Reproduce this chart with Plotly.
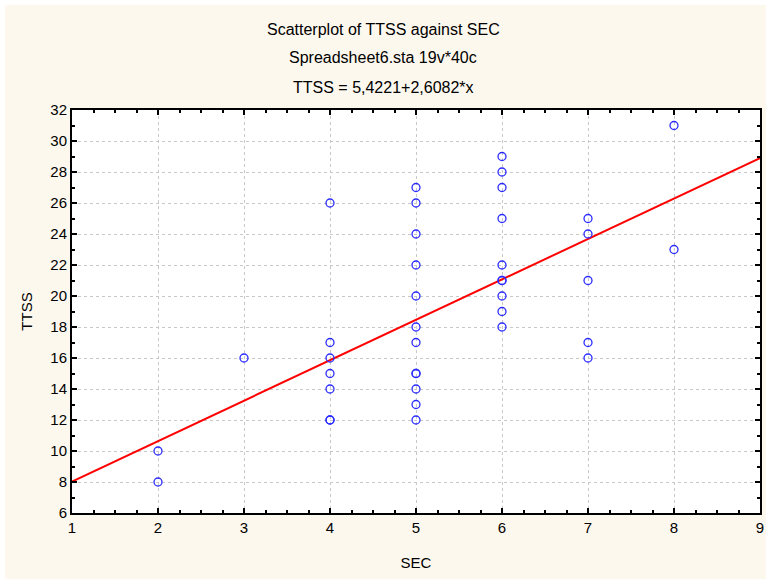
import plotly.graph_objects as go

# SEC / TTSS pairs (duplicates overlap)
sec = [2, 2,
       3,
       4, 4, 4, 4, 4, 4, 4,
       5, 5, 5, 5, 5, 5, 5, 5, 5, 5, 5, 5,
       6, 6, 6, 6, 6, 6, 6, 6, 6, 6,
       7, 7, 7, 7, 7,
       8, 8]
ttss = [8, 10,
        16,
        26, 17, 16, 15, 14, 12, 12,
        27, 26, 24, 22, 20, 18, 17, 15, 15, 14, 13, 12,
        29, 28, 27, 25, 22, 21, 21, 20, 19, 18,
        25, 24, 21, 17, 16,
        31, 23]

intercept = 5.4221
slope = 2.6082
fit_x = [1, 9]
fit_y = [intercept + slope * x for x in fit_x]

title_lines = [
    "Scatterplot of TTSS against SEC",
    "Spreadsheet6.sta 19v*40c",
    "TTSS = 5,4221+2,6082*x",
]

CREAM = "#fdf8ee"
FONT = "Liberation Sans, Arial, sans-serif"

W, H = 766, 579
L, R, T, B = 72, 6, 110, 66
PW, PH = W - L - R, H - T - B


def px_x(px):
    return (px - L) / PW


def px_y(py):
    return (H - B - py) / PH


fig = go.Figure()
fig.add_trace(
    go.Scatter(
        x=fit_x, y=fit_y, mode="lines",
        line=dict(color="#ff0000", width=2),
        hoverinfo="skip", showlegend=False,
    )
)
fig.add_trace(
    go.Scatter(
        x=sec, y=ttss, mode="markers",
        marker=dict(symbol="circle-open", size=8, color="#2b2bff",
                    line=dict(width=1.3)),
        hoverinfo="skip", showlegend=False,
    )
)

axis_common = dict(
    showline=True, linecolor="black", linewidth=2, mirror="ticks",
    ticks="inside", ticklen=5, tickwidth=2, tickcolor="black",
    showgrid=True, gridcolor="#c8c8c8", griddash="dot", gridwidth=1,
    zeroline=False, tickfont=dict(size=15, color="black"),
    ticklabeloverflow="allow", automargin=False,
)

fig.update_xaxes(
    range=[1, 9], dtick=1, tick0=1,
    minor=dict(ticks="inside", dtick=0.25, ticklen=3, tickwidth=2,
               tickcolor="black", showgrid=False),
    title=dict(text="SEC", font=dict(size=15, color="black"), standoff=22),
    **axis_common,
)
fig.update_yaxes(
    range=[6, 32], dtick=2, tick0=6,
    minor=dict(ticks="inside", dtick=1, ticklen=3, tickwidth=2,
               tickcolor="black", showgrid=False),
    title=dict(text="TTSS", font=dict(size=15, color="black"), standoff=14),
    **axis_common,
)

# three-line title, centred on the page
for text, ypx in zip(title_lines, [30, 58, 87]):
    fig.add_annotation(
        text=text, xref="paper", yref="paper",
        x=px_x(383), y=px_y(ypx),
        xanchor="center", yanchor="middle", showarrow=False,
        font=dict(size=16, color="black"),
    )

# thin white strip along the top and left page edges
for x0, x1, y0, y1 in [(0, W, 0, 5), (0, 5, 0, H)]:
    fig.add_shape(
        type="rect", xref="paper", yref="paper",
        x0=px_x(x0), x1=px_x(x1), y0=px_y(y1), y1=px_y(y0),
        fillcolor="white", line=dict(width=0), layer="below",
    )

fig.update_layout(
    width=W, height=H,
    margin=dict(l=L, r=R, t=T, b=B),
    paper_bgcolor=CREAM, plot_bgcolor="white",
    font=dict(family=FONT, color="black"),
)

fig.write_html(
    "out.html",
    config={"displayModeBar": False},
    post_script="document.body.style.margin='0';document.body.style.padding='0';",
)
